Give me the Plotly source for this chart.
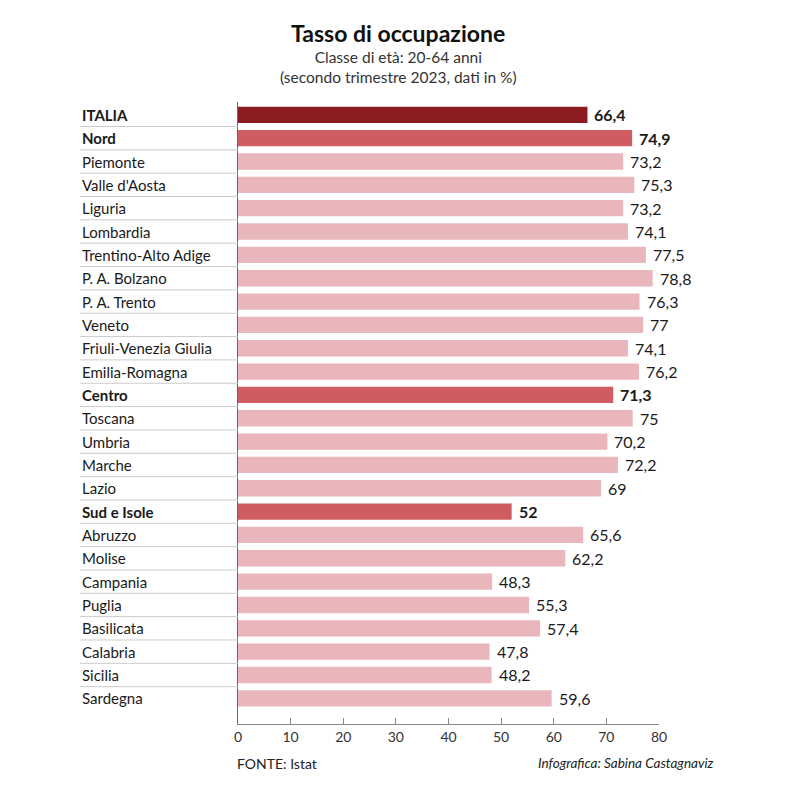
import plotly.graph_objects as go

categories = ["ITALIA", "Nord", "Piemonte", "Valle d'Aosta", "Liguria", "Lombardia",
              "Trentino-Alto Adige", "P. A. Bolzano", "P. A. Trento", "Veneto",
              "Friuli-Venezia Giulia", "Emilia-Romagna", "Centro", "Toscana", "Umbria",
              "Marche", "Lazio", "Sud e Isole", "Abruzzo", "Molise", "Campania", "Puglia",
              "Basilicata", "Calabria", "Sicilia", "Sardegna"]
values = [66.4, 74.9, 73.2, 75.3, 73.2, 74.1, 77.5, 78.8, 76.3, 77, 74.1, 76.2,
          71.3, 75, 70.2, 72.2, 69, 52, 65.6, 62.2, 48.3, 55.3, 57.4, 47.8, 48.2, 59.6]
levels = ["italia", "area", "reg", "reg", "reg", "reg", "reg", "reg", "reg", "reg", "reg", "reg",
          "area", "reg", "reg", "reg", "reg", "area", "reg", "reg", "reg", "reg", "reg", "reg", "reg", "reg"]
x_ticks = [0, 10, 20, 30, 40, 50, 60, 70, 80]

color_map = {"italia": "#8c1c20", "area": "#d05b61", "reg": "#e9b6bc"}
FONT = "Lato"
TXT = "#1a1a1a"

n = len(categories)
idx = list(range(n))

fig = go.Figure(go.Bar(
    x=values, y=idx, orientation="h",
    marker=dict(color=[color_map[l] for l in levels], line=dict(width=0)),
    width=0.7,
    hoverinfo="skip",
))

L, R, T, B = 238, 138, 102, 76
W = 797 - L - R
H = 800 - T - B
x_label = (80 - L) / W

def px_x(px):
    return (px - L) / W

def px_y(py):
    return 1 - (py - T) / H

annotations = []
for i, (c, v, lv) in enumerate(zip(categories, values, levels)):
    bold = lv != "reg"
    txt = f"<b>{c}</b>" if bold else c
    annotations.append(dict(x=x_label, xref="paper", y=i, yref="y", text=txt,
                            showarrow=False, xanchor="left", yanchor="middle",
                            font=dict(family=FONT, size=15, color=TXT)))
    s = f"{v:g}".replace(".", ",")
    annotations.append(dict(x=v, xref="x", y=i, yref="y", text=f"<b>{s}</b>" if bold else s,
                            showarrow=False, xanchor="left", yanchor="middle", xshift=5,
                            font=dict(family=FONT, size=16, color=TXT)))

annotations += [
    dict(x=px_x(398), y=px_y(33), xref="paper", yref="paper", text="<b>Tasso di occupazione</b>",
         showarrow=False, xanchor="center", yanchor="middle",
         font=dict(family=FONT, size=23, color="#111")),
    dict(x=px_x(398), y=px_y(67), xref="paper", yref="paper",
         text="Classe di età: 20-64 anni<br>(secondo trimestre 2023, dati in %)",
         showarrow=False, xanchor="center", yanchor="middle", align="center",
         font=dict(family=FONT, size=15.5, color="#333")),
    dict(x=px_x(235), y=px_y(763), xref="paper", yref="paper", text="FONTE: Istat",
         showarrow=False, xanchor="left", yanchor="middle",
         font=dict(family=FONT, size=14, color="#222")),
    dict(x=px_x(716), y=px_y(763), xref="paper", yref="paper", text="<i>Infografica: Sabina Castagnaviz</i>",
         showarrow=False, xanchor="right", yanchor="middle",
         font=dict(family=FONT, size=13.5, color="#222")),
]

shapes = []
for i in range(n - 1):
    shapes.append(dict(type="line", xref="paper", yref="y", x0=x_label, x1=0,
                       y0=i + 0.5, y1=i + 0.5, line=dict(color="#cccccc", width=1)))

fig.update_layout(
    width=797, height=800,
    margin=dict(l=L, r=R, t=T, b=B),
    paper_bgcolor="white", plot_bgcolor="white",
    showlegend=False, bargap=0.3,
    xaxis=dict(range=[0, 80], tickvals=x_ticks, showgrid=False, zeroline=False,
               showline=True, linecolor="#888", linewidth=1,
               ticks="inside", ticklen=6, tickcolor="#888",
               tickfont=dict(family=FONT, size=14, color="#333")),
    yaxis=dict(range=[26.1, -0.55], showticklabels=False, showgrid=False, zeroline=False,
               showline=True, linecolor="#666", linewidth=1, ticks=""),
    annotations=annotations, shapes=shapes,
    font=dict(family=FONT),
)

fig.write_html("out.html")
